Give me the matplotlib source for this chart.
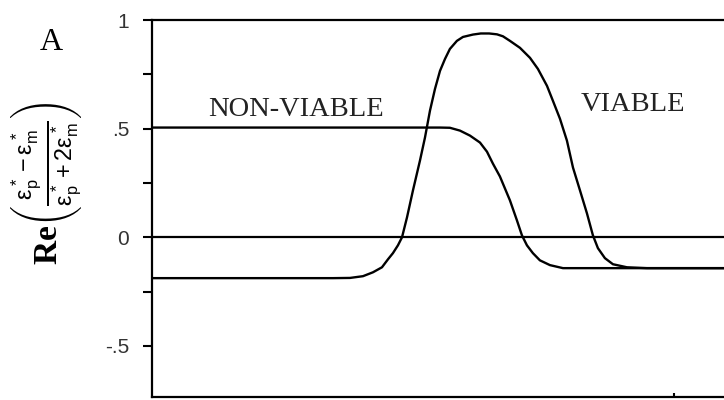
import numpy as np
import matplotlib
matplotlib.use('Agg')
import matplotlib.pyplot as plt

plt.rcParams['mathtext.fontset'] = 'custom'
plt.rcParams['mathtext.rm'] = 'Liberation Sans'
plt.rcParams['mathtext.it'] = 'Liberation Sans'
plt.rcParams['mathtext.bf'] = 'Liberation Sans:bold'

# log frequency (arbitrary units) and Re(CM factor)
viable_x = [2.000, 3.734, 3.897, 4.021, 4.117, 4.203, 4.261, 4.308, 4.356,
            4.395, 4.443, 4.500, 4.567, 4.615, 4.663, 4.711, 4.759, 4.807,
            4.854, 4.921, 4.979, 5.075, 5.150, 5.230, 5.305, 5.362, 5.429,
            5.525, 5.621, 5.697, 5.784, 5.841, 5.908, 5.975, 6.033, 6.100,
            6.167, 6.224, 6.272, 6.339, 6.416, 6.550, 6.741, 7.479]
viable_y = [-0.188, -0.188, -0.187, -0.179, -0.161, -0.138, -0.101, -0.073,
            -0.037, 0.0, 0.092, 0.216, 0.353, 0.459, 0.583, 0.683, 0.766,
            0.821, 0.867, 0.904, 0.922, 0.933, 0.938, 0.938, 0.934, 0.925,
            0.904, 0.872, 0.826, 0.775, 0.697, 0.628, 0.546, 0.445, 0.321,
            0.216, 0.110, 0.009, -0.050, -0.096, -0.124, -0.138, -0.142,
            -0.142]

nonviable_x = [2.000, 4.759, 4.854, 4.950, 5.046, 5.142, 5.209, 5.266, 5.333,
               5.429, 5.496, 5.544, 5.592, 5.649, 5.716, 5.812, 5.937, 7.479]
nonviable_y = [0.505, 0.505, 0.504, 0.491, 0.468, 0.436, 0.394, 0.339, 0.280,
               0.170, 0.078, 0.009, -0.037, -0.073, -0.106, -0.128, -0.142,
               -0.142]

ytick_vals = [-0.5, -0.25, 0, 0.25, 0.5, 0.75, 1]
ytick_labels = ['-.5', '', '0', '', '.5', '', '1']

fig = plt.figure(figsize=(7.24, 4.0), dpi=100)
ax = fig.add_axes([0.21, 0.0075, 0.79, 0.9425])

ax.plot(viable_x, viable_y, color='black', lw=1.7, solid_joinstyle='round')
ax.plot(nonviable_x, nonviable_y, color='black', lw=1.7, solid_joinstyle='round')
ax.axhline(0, color='black', lw=1.6)

ax.set_xlim(2.0, 7.48)
ax.set_ylim(-0.735, 1.0)

for s in ['left', 'top', 'bottom']:
    ax.spines[s].set_linewidth(1.6)
ax.spines['right'].set_visible(False)

ax.set_yticks(ytick_vals)
ax.set_yticklabels(ytick_labels, family='Liberation Sans', fontsize=15,
                   color='#333333')
ax.tick_params(axis='y', direction='out', length=6.5, width=1.5, pad=10)
ax.set_xticks([7])
ax.set_xticklabels([''])
ax.tick_params(axis='x', direction='in', length=3, width=1.5)

ax.text(2.536, 0.56, 'NON-VIABLE', family='Liberation Serif', fontsize=20.5,
        ha='left', va='baseline', color='#222222')
ax.text(6.109, 0.583, 'VIABLE', family='Liberation Serif', fontsize=20.5,
        ha='left', va='baseline', color='#222222')

fig.text(40 / 724, 1 - 50 / 400, 'A', family='Liberation Serif', fontsize=23,
         ha='left', va='baseline')
fig.text(47 / 724, 1 - 183 / 400,
         r'Re$\left(\frac{\varepsilon_p^*-\varepsilon_m^*}{\varepsilon_p^*+2\varepsilon_m^*}\right)$',
         family='Liberation Serif', fontsize=24, fontweight='bold', rotation=90,
         ha='center', va='center')

fig.savefig('out.png', dpi=100)
